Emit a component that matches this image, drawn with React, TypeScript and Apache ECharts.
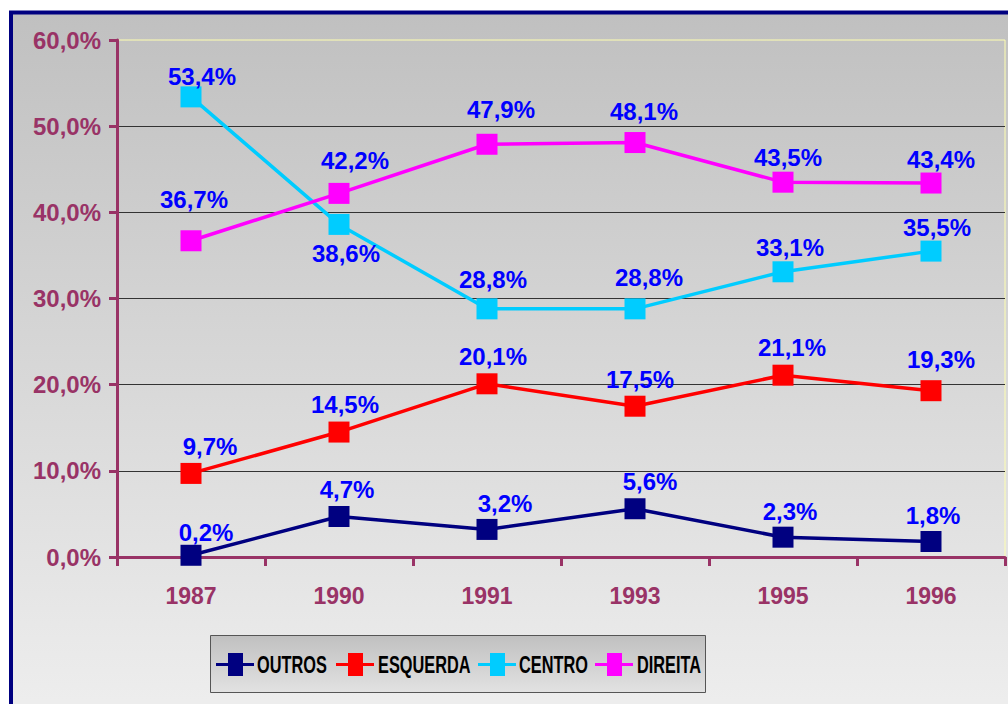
import React, { useEffect, useRef } from "react";
import * as echarts from "echarts";

const categories = ["1987", "1990", "1991", "1993", "1995", "1996"];
const seriesNames = ["OUTROS", "ESQUERDA", "CENTRO", "DIREITA"];
const outros = [0.2, 4.7, 3.2, 5.6, 2.3, 1.8];
const esquerda = [9.7, 14.5, 20.1, 17.5, 21.1, 19.3];
const centro = [53.4, 38.6, 28.8, 28.8, 33.1, 35.5];
const direita = [36.7, 42.2, 47.9, 48.1, 43.5, 43.4];
const yTicks = [0, 10, 20, 30, 40, 50, 60];

// label placement relative to each marker (styling only)
const outrosLabelOffsets = [[15, -23], [8, -27], [18, -26], [15, -27], [7, -26], [2, -26]];
const esquerdaLabelOffsets = [[19, -27], [6, -28], [6, -27], [5, -27], [9, -28], [10, -31]];
const centroLabelOffsets = [[11, -20], [7, 29], [6, -29], [14, -31], [7, -24], [6, -24]];
const direitaLabelOffsets = [[3, -41], [16, -33], [14, -35], [9, -31], [5, -25], [10, -24]];

const COLORS = ["#000080", "#ff0000", "#00ccff", "#ff00ff"];
const FONT = "'Liberation Sans', Arial, Helvetica, sans-serif";
const AXIS = "#993366";

// legend layout (box and item start positions)
const LEGEND_BOX = { x: 210.5, y: 635.5, w: 495, h: 57 };
const LEGEND_ICON_X = [216, 336, 478, 595];
const LEGEND_TEXT_X = [257, 378, 519, 637];
const LEGEND_CY = 664.5;

const fmt = (v: number) => v.toFixed(1).replace(".", ",") + "%";

function makeSeries(name: string, values: number[], offsets: number[][], color: string) {
  return {
    name,
    type: "line",
    symbol: "rect",
    symbolSize: 21,
    lineStyle: { color, width: 3.5 },
    itemStyle: { color },
    label: {
      show: true,
      position: "inside",
      color: "#0000ff",
      fontWeight: "bold",
      fontSize: 24,
      fontFamily: FONT,
      formatter: (p: any) => fmt(p.value),
    },
    data: values.map((v, i) => ({
      value: v,
      label: { offset: offsets[i] },
    })),
  };
}

function legendGraphic() {
  const els: any[] = [
    {
      type: "rect",
      silent: true,
      z: 50,
      shape: { x: LEGEND_BOX.x, y: LEGEND_BOX.y, width: LEGEND_BOX.w, height: LEGEND_BOX.h },
      style: {
        fill: new echarts.graphic.LinearGradient(0, 0, 0, 1, [
          { offset: 0, color: "#c0c0c0" },
          { offset: 1, color: "#e2e2e2" },
        ]),
        stroke: "#555555",
        lineWidth: 1,
      },
    },
  ];
  seriesNames.forEach((name, i) => {
    const ix = LEGEND_ICON_X[i];
    els.push({
      type: "rect",
      silent: true,
      z: 51,
      shape: { x: ix, y: LEGEND_CY - 1.5, width: 38, height: 3 },
      style: { fill: COLORS[i] },
    });
    els.push({
      type: "rect",
      silent: true,
      z: 52,
      shape: { x: ix + 12, y: LEGEND_CY - 11.5, width: 15, height: 23 },
      style: { fill: COLORS[i] },
    });
    els.push({
      type: "text",
      silent: true,
      z: 52,
      x: LEGEND_TEXT_X[i],
      y: LEGEND_CY,
      scaleX: 0.71,
      style: {
        x: 0,
        y: 0,
        text: name,
        fill: "#000000",
        font: `bold 23px ${FONT}`,
        textAlign: "left",
        textVerticalAlign: "middle",
        verticalAlign: "middle",
      },
    });
  });
  return els;
}

export default function App() {
  const ref = useRef<HTMLDivElement>(null);
  useEffect(() => {
    if (!ref.current) return;
    const chart = echarts.init(ref.current, null, { renderer: "svg" });
    chart.setOption({
      animation: false,
      graphic: [
        {
          type: "rect",
          z: -100,
          silent: true,
          shape: { x: 11, y: 12.5, width: 1100, height: 800 },
          style: {
            fill: new echarts.graphic.LinearGradient(0, 0, 0, 1, [
              { offset: 0, color: "#c0c0c0" },
              { offset: 0.86, color: "#ededed" },
              { offset: 1, color: "#ededed" },
            ]),
            stroke: "#000080",
            lineWidth: 4,
          },
        },
        ...legendGraphic(),
      ],
      grid: {
        left: 117,
        right: 3,
        top: 40,
        bottom: 147,
        show: true,
        borderColor: "#ffffb0",
        borderWidth: 1,
        backgroundColor: "transparent",
      },
      legend: { show: false, data: seriesNames },
      xAxis: {
        type: "category",
        data: categories,
        boundaryGap: true,
        axisLine: { show: true, lineStyle: { color: AXIS, width: 3 } },
        axisTick: { show: true, length: 9, lineStyle: { color: AXIS, width: 3 } },
        axisLabel: { color: AXIS, fontWeight: "bold", fontSize: 23, fontFamily: FONT, margin: 27 },
        splitLine: { show: false },
      },
      yAxis: {
        type: "value",
        min: yTicks[0],
        max: yTicks[yTicks.length - 1],
        interval: yTicks[1] - yTicks[0],
        axisLine: { show: true, lineStyle: { color: AXIS, width: 3 } },
        axisTick: { show: true, length: 8, lineStyle: { color: AXIS, width: 3 } },
        axisLabel: {
          color: AXIS,
          fontWeight: "bold",
          fontSize: 24,
          fontFamily: FONT,
          margin: 16,
          formatter: (v: number) => fmt(v),
        },
        splitLine: { show: true, showMaxLine: false, lineStyle: { color: "#333333", width: 1 } },
      },
      series: [
        makeSeries(seriesNames[0], outros, outrosLabelOffsets, COLORS[0]),
        makeSeries(seriesNames[1], esquerda, esquerdaLabelOffsets, COLORS[1]),
        makeSeries(seriesNames[2], centro, centroLabelOffsets, COLORS[2]),
        makeSeries(seriesNames[3], direita, direitaLabelOffsets, COLORS[3]),
      ],
    });
    return () => chart.dispose();
  }, []);
  return (
    <div
      ref={ref}
      style={{ position: "absolute", left: 0, top: 0, width: 1008, height: 704 }}
    />
  );
}
